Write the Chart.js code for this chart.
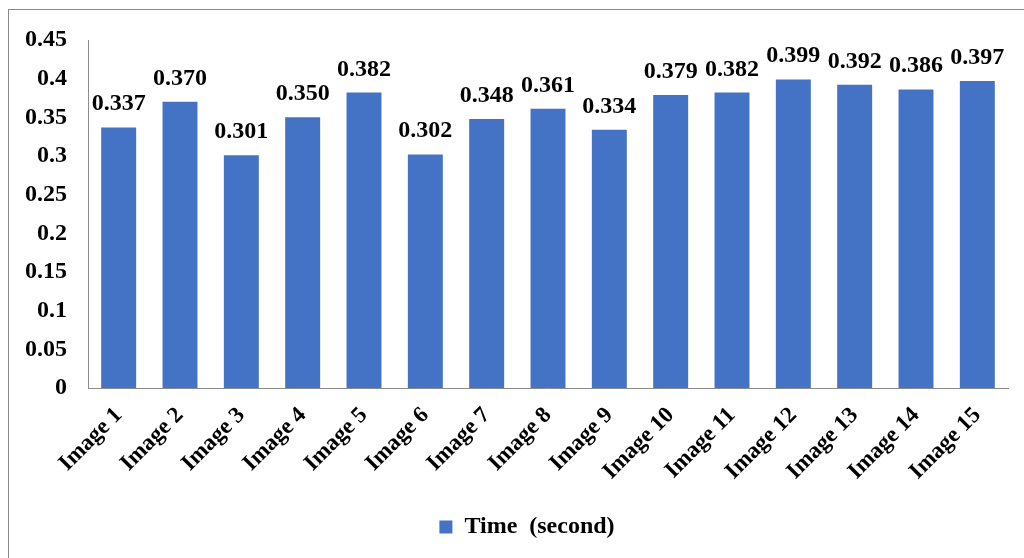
<!DOCTYPE html>
<html>
<head>
<meta charset="utf-8">
<script src="https://cdn.jsdelivr.net/npm/chart.js@4.4.1/dist/chart.umd.min.js"></script>
<style>
  html, body { margin: 0; padding: 0; background: #fff; }
  #wrap { width: 1024px; height: 558px; position: relative; }
</style>
</head>
<body>
<div id="wrap"><canvas id="barChart" width="1024" height="558"></canvas></div>
<script>
const categories = ['Image 1', 'Image 2', 'Image 3', 'Image 4', 'Image 5', 'Image 6', 'Image 7', 'Image 8',
  'Image 9', 'Image 10', 'Image 11', 'Image 12', 'Image 13', 'Image 14', 'Image 15'];
const timeValues = [0.337, 0.370, 0.301, 0.350, 0.382, 0.302, 0.348, 0.361, 0.334, 0.379, 0.382, 0.399, 0.392, 0.386, 0.397];
const yTickLabels = ['0', '0.05', '0.1', '0.15', '0.2', '0.25', '0.3', '0.35', '0.4', '0.45'];
const seriesName = 'Time  (second)';

const FONT = "'Liberation Serif', 'Times New Roman', serif";

// outer frame of the chart
const framePlugin = {
  id: 'frame',
  beforeDraw(chart) {
    const ctx = chart.ctx;
    ctx.save();
    ctx.strokeStyle = '#8a8a8a';
    ctx.lineWidth = 1;
    ctx.strokeRect(8.5, 9.5, 1040, 600);
    ctx.restore();
  }
};

// legend sits centred under the plot area, not the whole canvas
const legendShift = {
  id: 'legendShift',
  afterLayout(chart) {
    const lg = chart.legend;
    if (lg) {
      lg.left += 23;
      lg.right += 23;
    }
  }
};

// value labels above each bar
const valueLabels = {
  id: 'valueLabels',
  afterDatasetsDraw(chart) {
    const ctx = chart.ctx;
    const meta = chart.getDatasetMeta(0);
    ctx.save();
    ctx.font = 'bold 24px ' + FONT;
    ctx.fillStyle = '#000';
    ctx.textAlign = 'center';
    ctx.textBaseline = 'alphabetic';
    meta.data.forEach((bar, i) => {
      ctx.fillText(timeValues[i].toFixed(3), bar.x, bar.y - 17);
    });
    ctx.restore();
  }
};

const ctx = document.getElementById('barChart').getContext('2d');
new Chart(ctx, {
  type: 'bar',
  data: {
    labels: categories,
    datasets: [{
      label: seriesName,
      data: timeValues,
      backgroundColor: '#4472C4',
      borderWidth: 0,
      categoryPercentage: 1.0,
      barPercentage: 0.57
    }]
  },
  options: {
    responsive: false,
    animation: false,
    layout: { padding: { left: 0, top: 40, right: 16, bottom: 9 } },
    plugins: {
      tooltip: { enabled: false },
      legend: {
        position: 'bottom',
        labels: {
          boxWidth: 13,
          boxHeight: 13,
          padding: 10,
          color: '#000',
          font: { family: FONT, size: 24, weight: 'bold' }
        }
      }
    },
    scales: {
      x: {
        grid: { display: false },
        border: { display: true, color: '#8c8c8c', width: 1 },
        ticks: {
          autoSkip: false,
          maxRotation: 45,
          minRotation: 45,
          padding: 6,
          color: '#000',
          font: { family: FONT, size: 23, weight: 'bold' }
        },
        afterFit(scale) { scale.height = 117; }
      },
      y: {
        min: 0,
        max: 0.45,
        grid: { display: false, drawTicks: false },
        border: { display: true, color: '#8c8c8c', width: 1 },
        ticks: {
          stepSize: 0.05,
          padding: 21,
          color: '#000',
          font: { family: FONT, size: 24, weight: 'bold' },
          callback: (v, i) => yTickLabels[i]
        },
        afterFit(scale) { scale.width = 88; }
      }
    }
  },
  plugins: [framePlugin, legendShift, valueLabels]
});
</script>
</body>
</html>
